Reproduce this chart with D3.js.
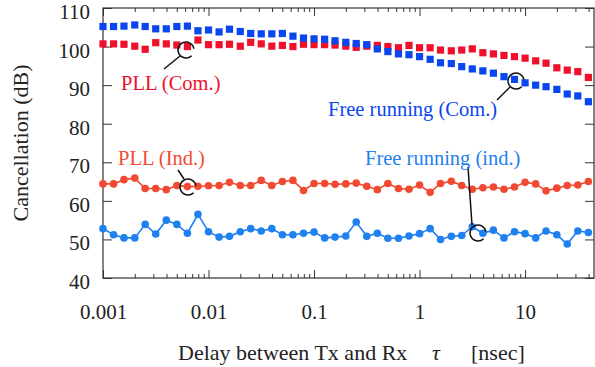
<!DOCTYPE html>
<html>
<head>
<meta charset="utf-8">
<script src="https://cdn.jsdelivr.net/npm/d3@7"></script>
<style>
  body { margin: 0; background: #fff; }
  svg text { font-family: "Liberation Serif", "Times New Roman", serif; }
</style>
</head>
<body>
<svg id="chart"></svg>
<script>
// delay tau [nsec], 10 points per decade
const delays = [
  0.001, 0.00126, 0.00158, 0.002, 0.00251, 0.00316, 0.00398, 0.00501, 0.00631, 0.00794,
  0.01, 0.0126, 0.0158, 0.02, 0.0251, 0.0316, 0.0398, 0.0501, 0.0631, 0.0794,
  0.1, 0.126, 0.158, 0.2, 0.251, 0.316, 0.398, 0.501, 0.631, 0.794,
  1, 1.26, 1.58, 2, 2.51, 3.16, 3.98, 5.01, 6.31, 7.94,
  10, 12.6, 15.8, 20, 25.1, 31.6, 39.8
];

// cancellation (dB)
const freeCom = [
  105.2, 105.2, 105.3, 105.6, 105.2, 104.6, 104.6, 105.2, 105.3, 104.1,
  104.3, 103.8, 104.5, 103.9, 103.4, 103.3, 103.3, 103.4, 102.7, 102.2,
  102.0, 101.9, 101.5, 101.1, 100.8, 100.5, 99.4, 98.7, 98.1, 97.9,
  97.4, 96.7, 95.8, 95.6, 94.8, 94.2, 93.7, 93.1, 92.2, 91.5,
  90.6, 90.0, 89.6, 88.9, 87.7, 87.2, 85.7
];
const pllCom = [
  100.7, 100.7, 100.6, 100.1, 99.3, 101.0, 100.7, 100.4, 100.0, 101.7,
  100.5, 100.5, 100.6, 100.1, 101.1, 100.7, 100.1, 100.3, 100.0, 100.6,
  100.5, 100.5, 100.4, 100.1, 99.8, 100.1, 100.3, 100.0, 99.7, 100.3,
  99.7, 99.7, 99.1, 98.9, 99.1, 99.4, 98.4, 98.1, 97.7, 97.4,
  97.0, 96.3, 95.7, 94.5, 93.9, 93.5, 92.0
];
const pllInd = [
  64.4, 64.4, 65.5, 65.9, 63.2, 63.2, 62.9, 64.0, 63.7, 63.8,
  63.9, 64.0, 64.8, 64.0, 64.0, 65.3, 64.0, 65.0, 65.3, 62.7,
  64.5, 64.5, 64.3, 64.4, 64.6, 63.8, 62.9, 64.5, 63.2, 63.0,
  64.1, 62.2, 64.5, 65.1, 64.0, 63.0, 63.4, 63.6, 63.0, 63.6,
  64.8, 64.4, 62.6, 63.3, 64.0, 64.1, 65.0
];
const freeInd = [
  52.8, 51.2, 50.4, 50.4, 53.9, 51.4, 55.0, 53.9, 51.6, 56.5,
  52.0, 50.6, 50.8, 52.0, 52.8, 52.2, 52.8, 51.2, 51.2, 51.6,
  51.9, 50.4, 50.6, 50.9, 54.5, 50.8, 51.6, 50.3, 50.3, 50.9,
  51.5, 52.8, 50.0, 50.8, 51.0, 53.3, 51.6, 52.4, 50.4, 52.0,
  51.5, 50.4, 52.2, 51.2, 48.8, 52.2, 51.8
];

const xMajor = [0.001, 0.01, 0.1, 1, 10];
const xMajorLabels = ["0.001", "0.01", "0.1", "1", "10"];
const yTicks = [40, 50, 60, 70, 80, 90, 100, 110];

const WIDTH = 595, HEIGHT = 367;
const PAD = { LEFT: 103, RIGHT: 1, TOP: 8, BOTTOM: 89 };
const COLORS = { freeCom: "#0a46f0", pllCom: "#f0102c", pllInd: "#f24a32", freeInd: "#1f80f0" };
const SERIF = "Liberation Serif, Times New Roman, serif";

const svg = d3.select("#chart").attr("width", WIDTH).attr("height", HEIGHT);

const x = d3.scaleLog().domain([0.001, 45]).range([PAD.LEFT, WIDTH - PAD.RIGHT]);
const y = d3.scaleLinear().domain([40, 110]).range([HEIGHT - PAD.BOTTOM, PAD.TOP]);

const x0 = x.range()[0], x1 = x.range()[1], y0 = y.range()[0], y1 = y.range()[1];

// minor ticks 2..9 of each decade inside the domain
const xMinor = x.ticks(50).filter(v => !xMajor.includes(v) && v <= x.domain()[1]);

function styleAxis(g) {
  g.attr("font-family", SERIF);
  g.select(".domain").remove();
  g.selectAll("line").attr("stroke", "#333").attr("stroke-width", 1);
}

// bottom / top ticks (pointing in)
svg.append("g").attr("transform", `translate(0,${y0})`)
  .call(d3.axisBottom(x).tickValues(xMinor).tickSize(-4).tickFormat(""))
  .call(styleAxis);
svg.append("g").attr("transform", `translate(0,${y0})`)
  .call(d3.axisBottom(x).tickValues(xMajor).tickSize(-8).tickPadding(26)
    .tickFormat((d, i) => xMajorLabels[i]))
  .call(styleAxis)
  .selectAll("text").attr("font-size", 21).attr("fill", "#222");
svg.append("g").attr("transform", `translate(0,${y1})`)
  .call(d3.axisTop(x).tickValues(xMinor).tickSize(-4).tickFormat(""))
  .call(styleAxis);
svg.append("g").attr("transform", `translate(0,${y1})`)
  .call(d3.axisTop(x).tickValues(xMajor).tickSize(-8).tickFormat(""))
  .call(styleAxis);

// left / right ticks
svg.append("g").attr("transform", `translate(${x0},0)`)
  .call(d3.axisLeft(y).tickValues(yTicks).tickSize(-9).tickPadding(13))
  .call(styleAxis)
  .selectAll("text").attr("font-size", 21).attr("fill", "#222").attr("dy", "0.5em");
svg.append("g").attr("transform", `translate(${x1},0)`)
  .call(d3.axisRight(y).tickValues(yTicks).tickSize(-9).tickFormat(""))
  .call(styleAxis);

// frame
svg.append("rect")
  .attr("x", x0).attr("y", y1)
  .attr("width", x1 - x0).attr("height", y0 - y1)
  .attr("fill", "none").attr("stroke", "#333").attr("stroke-width", 1.2);

// axis titles
svg.append("text")
  .attr("x", 178).attr("y", 360)
  .attr("font-size", 22).attr("fill", "#222")
  .text("Delay between Tx and Rx");
svg.append("text")
  .attr("x", 432).attr("y", 360)
  .attr("font-size", 22).attr("font-style", "italic").attr("fill", "#222")
  .text("τ");
svg.append("text")
  .attr("x", 471).attr("y", 360)
  .attr("font-size", 22).attr("fill", "#222")
  .text("[nsec]");
svg.append("text")
  .attr("transform", `translate(28,${(y0 + y1) / 2}) rotate(-90)`)
  .attr("text-anchor", "middle")
  .attr("font-size", 22).attr("fill", "#222")
  .text("Cancellation (dB)");

// series
const pts = vals => delays.map((d, i) => ({ d: d, v: vals[i] }));

function squares(vals, color) {
  svg.append("g").selectAll("rect")
    .data(pts(vals))
    .enter().append("rect")
      .attr("x", p => x(p.d) - 3.6)
      .attr("y", p => y(p.v) - 3.6)
      .attr("width", 7.2).attr("height", 7.2)
      .attr("fill", color);
}

function circles(vals, color) {
  const line = d3.line().x(p => x(p.d)).y(p => y(p.v));
  svg.append("path")
    .datum(pts(vals))
    .attr("d", line)
    .attr("fill", "none").attr("stroke", color).attr("stroke-width", 1.6);
  svg.append("g").selectAll("circle")
    .data(pts(vals))
    .enter().append("circle")
      .attr("cx", p => x(p.d)).attr("cy", p => y(p.v))
      .attr("r", 3.8).attr("fill", color);
}

squares(pllCom, COLORS.pllCom);
squares(freeCom, COLORS.freeCom);
circles(pllInd, COLORS.pllInd);
circles(freeInd, COLORS.freeInd);

// annotation hooks
function hook(cx, cy, handle) {
  const p = d3.path();
  p.arc(cx, cy, 8, Math.PI * 0.25, Math.PI * 1.95);
  svg.append("path").attr("d", p.toString())
    .attr("fill", "none").attr("stroke", "#111").attr("stroke-width", 1.5);
  svg.append("line")
    .attr("x1", handle[0]).attr("y1", handle[1])
    .attr("x2", handle[2]).attr("y2", handle[3])
    .attr("stroke", "#111").attr("stroke-width", 1.5);
}
hook(186, 50, [180, 56, 164, 69]);
hook(516, 81, [510, 87, 497, 100]);
hook(188, 187, [178, 170, 184, 179]);
hook(478, 233, [468, 167, 472, 225]);

// labels
function label(txt, lx, ly, color) {
  svg.append("text").attr("x", lx).attr("y", ly)
    .attr("font-size", 20.5).attr("fill", color).text(txt);
}
label("PLL (Com.)", 121, 90, COLORS.pllCom);
label("Free running (Com.)", 328, 116, COLORS.freeCom);
label("PLL (Ind.)", 118, 165, COLORS.pllInd);
label("Free running (ind.)", 365, 165, COLORS.freeInd);
</script>
</body>
</html>
